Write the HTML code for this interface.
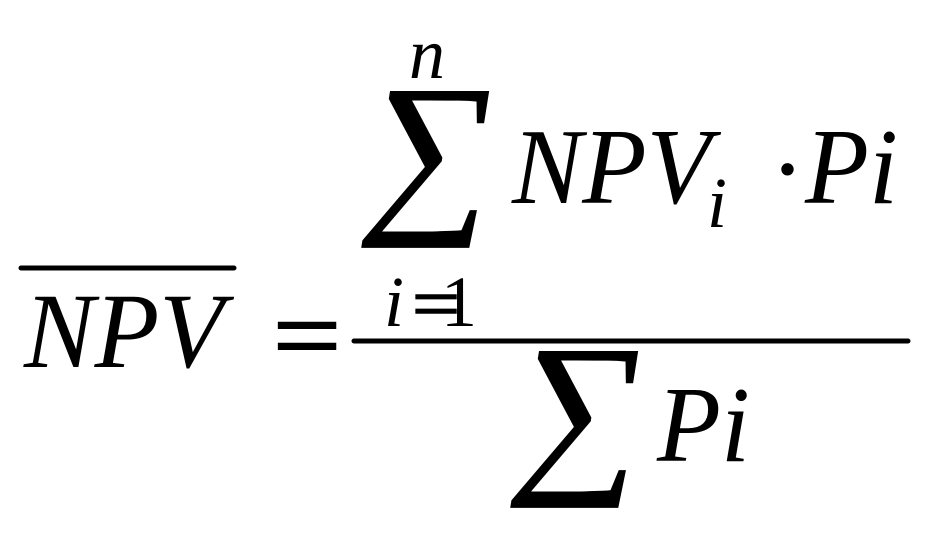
<!DOCTYPE html>
<html><head><meta charset="utf-8"><style>
html,body{margin:0;padding:0;background:#fff;width:934px;height:535px;overflow:hidden}
svg{display:block}
text{font-family:"Liberation Serif",serif;font-style:italic;fill:#000}
</style></head><body>
<svg width="934" height="535" viewBox="0 0 934 535" xmlns="http://www.w3.org/2000/svg">
<line x1="21" y1="268" x2="234" y2="268" stroke="#000" stroke-width="5" stroke-linecap="round"/>
<text x="24" y="367" font-size="107" textLength="200" lengthAdjust="spacingAndGlyphs">NPV</text>
<text x="273" y="371" font-size="105" textLength="68" lengthAdjust="spacingAndGlyphs" stroke="#000" stroke-width="2" style="font-style:normal">=</text>
<text x="409" y="78" font-size="72">n</text>
<text transform="translate(360 209) skewX(-9)" x="0" y="0" font-size="179" textLength="129" lengthAdjust="spacingAndGlyphs" stroke="#000" stroke-width="1.5" style="font-style:normal">∑</text>
<text x="512" y="203" font-size="108" textLength="199" lengthAdjust="spacingAndGlyphs">NPV</text>
<text x="707" y="227" font-size="72">i</text>
<text x="770" y="204" font-size="105" style="font-style:normal">·</text>
<text x="805" y="203" font-size="108" textLength="93" lengthAdjust="spacingAndGlyphs">Pi</text>
<text x="384" y="326" font-size="72">i</text>
<text x="412" y="328" font-size="72" textLength="48" lengthAdjust="spacingAndGlyphs" stroke="#000" stroke-width="1.5" style="font-style:normal">=</text>
<text x="441" y="326" font-size="72" style="font-style:normal">1</text>
<line x1="354" y1="341" x2="908" y2="341" stroke="#000" stroke-width="5" stroke-linecap="round"/>
<text transform="translate(509 469) skewX(-9)" x="0" y="0" font-size="179" textLength="129" lengthAdjust="spacingAndGlyphs" stroke="#000" stroke-width="1.5" style="font-style:normal">∑</text>
<text x="657" y="461" font-size="108" textLength="93" lengthAdjust="spacingAndGlyphs">Pi</text>
</svg>
</body></html>
